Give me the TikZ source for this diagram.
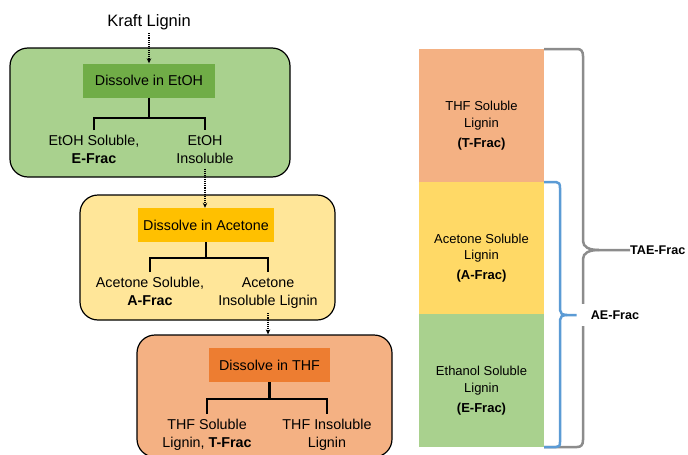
\documentclass[tikz,border=0pt]{standalone}
\usepackage{fontspec}
\setmainfont{Liberation Sans}
\usetikzlibrary{positioning,arrows.meta}
\definecolor{egreen}{HTML}{A9D18E}
\definecolor{egreendark}{HTML}{70AD47}
\definecolor{ayellow}{HTML}{FFE699}
\definecolor{ayellowdark}{HTML}{FFC000}
\definecolor{torange}{HTML}{F4B183}
\definecolor{torangedark}{HTML}{ED7D31}
\definecolor{afrac}{HTML}{FFD966}
\definecolor{bracegray}{HTML}{8C8C8C}
\definecolor{braceblue}{HTML}{5B9BD5}
\begin{document}
\begin{tikzpicture}[x=1pt,y=-1pt,
  stagebox/.style={draw=black,line width=1.2pt,rounded corners=18pt,inner sep=0pt},
  solvbox/.style={inner sep=0pt,minimum height=34pt,font=\fontsize{14.3}{17}\selectfont},
  split/.style={line width=2.2pt},
  outlbl/.style={anchor=north,align=center,inner sep=5pt,font=\fontsize{14.3}{18}\selectfont},
  flow/.style={densely dotted,line width=1.1pt,-{Stealth[length=5pt,width=4.5pt]}},
  fracbar/.style={minimum width=125pt,minimum height=133pt,inner sep=0pt,outer sep=0pt},
  bartext/.style={align=center,font=\fontsize{13}{16.5}\selectfont},
  bracelbl/.style={font=\bfseries\fontsize{12.6}{14}\selectfont}]
    \useasboundingbox (0,0) rectangle (688,455);
    \clip (0,0) rectangle (688,455);
    % ethanol stage
    \node (kraft) [font=\fontsize{16.5}{19}\selectfont] at (149,22) {Kraft Lignin};
    \node (b1) [stagebox,fill=egreen,minimum width=280pt,minimum height=129pt] at (150,112.5) {};
    \node (d1) [solvbox,fill=egreendark,minimum width=132pt] at (149,80.5) {Dissolve in EtOH};
    \node (l1) [outlbl] at (94,130) {EtOH Soluble,\\\textbf{E-Frac}};
    \node (r1) [outlbl] at (205,130) {EtOH\\Insoluble};
    \draw [split] (d1.south) -- ++(0,20) coordinate (j1);
    \draw [split] (l1.north) |- (j1) -| (r1.north);
    % acetone stage
    \node (b2) [stagebox,fill=ayellow,minimum width=255pt,minimum height=125pt] at (207.5,257.5) {};
    \node (d2) [solvbox,fill=ayellowdark,minimum width=136pt] at (206,225) {Dissolve in Acetone};
    \node (l2) [outlbl] at (150,272) {Acetone Soluble,\\\textbf{A-Frac}};
    \node (r2) [outlbl] at (268,272) {Acetone\\Insoluble Lignin};
    \draw [split] (d2.south) -- ++(0,16) coordinate (j2);
    \draw [split] (l2.north) |- (j2) -| (r2.north);
    % THF stage
    \node (b3) [stagebox,fill=torange,minimum width=255pt,minimum height=122pt] at (264.5,396) {};
    \node (d3) [solvbox,fill=torangedark,minimum width=121pt] at (269.5,365) {Dissolve in THF};
    \node (l3) [outlbl] at (207,414) {THF Soluble\\Lignin, \textbf{T-Frac}};
    \node (r3) [outlbl] at (327,414) {THF Insoluble\\Lignin};
    \draw [split] (d3.south) -- ++(0,17) coordinate (j3);
    \draw [split] (l3.north) |- (j3) -| (r3.north);
    % dotted flow
    \draw [flow] (kraft.south) -- (kraft.south |- d1.north);
    \draw [flow] (r1.south) -- (r1.south |- d2.north);
    \draw [flow] (r2.south) -- (r2.south |- b3.north);
    % fraction column
    \node (tbar) [fracbar,fill=torange] at (481.5,115.5) {};
    \node (abar) [fracbar,fill=afrac,minimum height=132pt,below=0pt of tbar] {};
    \node (ebar) [fracbar,fill=egreen,below=0pt of abar] {};
    \node (ttext) [bartext] at ([yshift=-10pt]tbar.center) {THF Soluble\\Lignin\\[3.5pt]\textbf{(T-Frac)}};
    \node (atext) [bartext] at ([yshift=-10pt]abar.center) {Acetone Soluble\\Lignin\\[3.5pt]\textbf{(A-Frac)}};
    \node (etext) [bartext] at ([yshift=-10pt]ebar.center) {Ethanol Soluble\\Lignin\\[3.5pt]\textbf{(E-Frac)}};
    % braces
    \node (tae) [bracelbl,anchor=west,inner sep=0pt] at (630,250) {TAE-Frac};
    \coordinate (taetip) at (599,250);
    \draw [bracegray,line width=2.5pt] (tbar.north east) -- (577,49) .. controls (581,49) and (583,51) .. (583,56)
      -- (583,241) .. controls (583,247) and (589,250) .. (taetip) -- (tae.west);
    \draw [bracegray,line width=2.5pt] (taetip) .. controls (589,250) and (583,253) .. (583,259)
      -- (583,440) .. controls (583,445) and (581,447) .. (577,447) -- (ebar.south east);
    \node (ae) [bracelbl,fill=white,inner xsep=14pt,inner ysep=7pt] at (615,315) {AE-Frac};
    \coordinate (aetip) at (567,315);
    \draw [braceblue,line width=2.5pt] (abar.north east) -- (556,182) .. controls (559,182) and (560,184) .. (560,188)
      -- (560,310) .. controls (560,313) and (562,315) .. (aetip) -- (ae.west);
    \draw [braceblue,line width=2.5pt] (aetip) .. controls (562,315) and (560,317) .. (560,320)
      -- (560,442) .. controls (560,446) and (559,447) .. (556,447) -- (ebar.south east);
\end{tikzpicture}
\end{document}
